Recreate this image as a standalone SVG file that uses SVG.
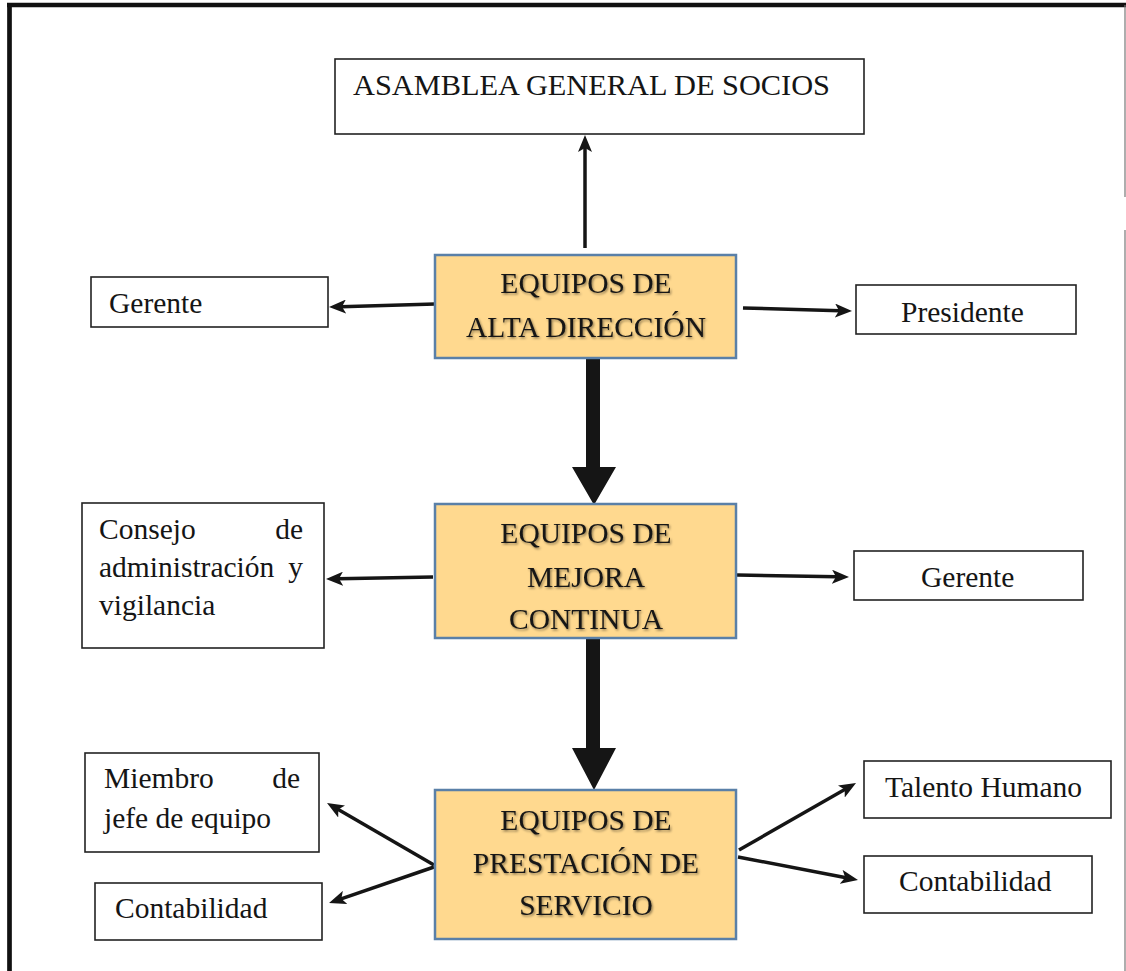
<svg xmlns="http://www.w3.org/2000/svg" width="1126" height="971" viewBox="0 0 1126 971">
<style>
text{font-family:"Liberation Serif","Times New Roman",serif;font-size:29.5px;fill:#151515}
.box{fill:#fff;stroke:#222;stroke-width:1.6}
.eq{fill:#FFD98F;stroke:#5A80A8;stroke-width:2.5}
.eqt{text-anchor:middle;filter:url(#sh)}
.ln{stroke:#151515;stroke-width:3.5;fill:none;marker-end:url(#ah)}
.thick{fill:#151515}
</style>
<defs>
<marker id="ah" markerUnits="userSpaceOnUse" markerWidth="17" markerHeight="14" refX="5" refY="7" orient="auto" viewBox="0 0 17 14">
<path d="M0,0 L17,7 L0,14 L4,7 z" fill="#151515"/>
</marker>
<filter id="sh" x="-10%" y="-30%" width="120%" height="160%">
<feDropShadow dx="1.2" dy="1.5" stdDeviation="1" flood-color="#000" flood-opacity="0.45"/>
</filter>
</defs>
<rect width="1126" height="971" fill="#fff"/>
<g id="frame">
<line x1="7" y1="5" x2="1126" y2="5" stroke="#111" stroke-width="4.5"/>
<line x1="9.5" y1="3" x2="9.5" y2="971" stroke="#111" stroke-width="4.7"/>
<line x1="1125" y1="5" x2="1125" y2="197" stroke="#777" stroke-width="1.2"/>
<line x1="1125" y1="230" x2="1125" y2="971" stroke="#777" stroke-width="1.2"/>
</g>
<g id="connectors">
<line class="ln" x1="585" y1="248" x2="585" y2="147"/>
<line class="ln" x1="435" y1="304" x2="341" y2="306.7"/>
<line class="ln" x1="743" y1="308" x2="840" y2="310.7"/>
<line class="ln" x1="433" y1="577" x2="338" y2="578.8"/>
<line class="ln" x1="737" y1="575" x2="837" y2="576.8"/>
<line class="ln" x1="434" y1="865" x2="337.4" y2="809"/>
<line class="ln" x1="434" y1="867" x2="340.4" y2="899.1"/>
<line class="ln" x1="739" y1="850" x2="845.6" y2="789"/>
<line class="ln" x1="738" y1="857" x2="846.2" y2="877.7"/>
<polygon class="thick" points="586,359 600,359 600,467 616,467 594,505 572,467 586,467"/>
<polygon class="thick" points="586,638 600,638 600,748 616,748 594,790 572,748 586,748"/>
</g>
<g id="asamblea">
<rect class="box" x="335" y="59" width="529" height="75"/>
<text x="353" y="95" textLength="477" lengthAdjust="spacingAndGlyphs">ASAMBLEA GENERAL DE SOCIOS</text>
</g>
<g id="gerente-1">
<rect class="box" x="91" y="277" width="237" height="50"/>
<text x="109" y="313">Gerente</text>
</g>
<g id="presidente">
<rect class="box" x="856" y="285" width="220" height="49"/>
<text x="901" y="322">Presidente</text>
</g>
<g id="alta-direccion">
<rect class="eq" x="435" y="255" width="301" height="103"/>
<text class="eqt" x="586" y="293">EQUIPOS DE</text>
<text class="eqt" x="586" y="337">ALTA DIRECCIÓN</text>
</g>
<g id="consejo">
<rect class="box" x="82" y="503" width="242" height="145"/>
<text x="99" y="539">Consejo</text>
<text x="303" y="539" text-anchor="end">de</text>
<text x="99" y="577">administración</text>
<text x="303" y="577" text-anchor="end">y</text>
<text x="99" y="615">vigilancia</text>
</g>
<g id="mejora-continua">
<rect class="eq" x="435" y="504" width="301" height="134"/>
<text class="eqt" x="586" y="543">EQUIPOS DE</text>
<text class="eqt" x="586" y="587">MEJORA</text>
<text class="eqt" x="586" y="629">CONTINUA</text>
</g>
<g id="gerente-2">
<rect class="box" x="854" y="551" width="229" height="49"/>
<text x="921" y="587">Gerente</text>
</g>
<g id="miembro">
<rect class="box" x="85" y="753" width="234" height="99"/>
<text x="104" y="788">Miembro</text>
<text x="300" y="788" text-anchor="end">de</text>
<text x="104" y="828">jefe de equipo</text>
</g>
<g id="contabilidad-1">
<rect class="box" x="95" y="883" width="227" height="57"/>
<text x="115" y="918">Contabilidad</text>
</g>
<g id="prestacion-servicio">
<rect class="eq" x="435" y="790" width="301" height="149"/>
<text class="eqt" x="586" y="830">EQUIPOS DE</text>
<text class="eqt" x="586" y="873">PRESTACIÓN DE</text>
<text class="eqt" x="586" y="915">SERVICIO</text>
</g>
<g id="talento-humano">
<rect class="box" x="864" y="761" width="247" height="57"/>
<text x="885" y="797">Talento Humano</text>
</g>
<g id="contabilidad-2">
<rect class="box" x="864" y="856" width="228" height="57"/>
<text x="899" y="891">Contabilidad</text>
</g>
</svg>
